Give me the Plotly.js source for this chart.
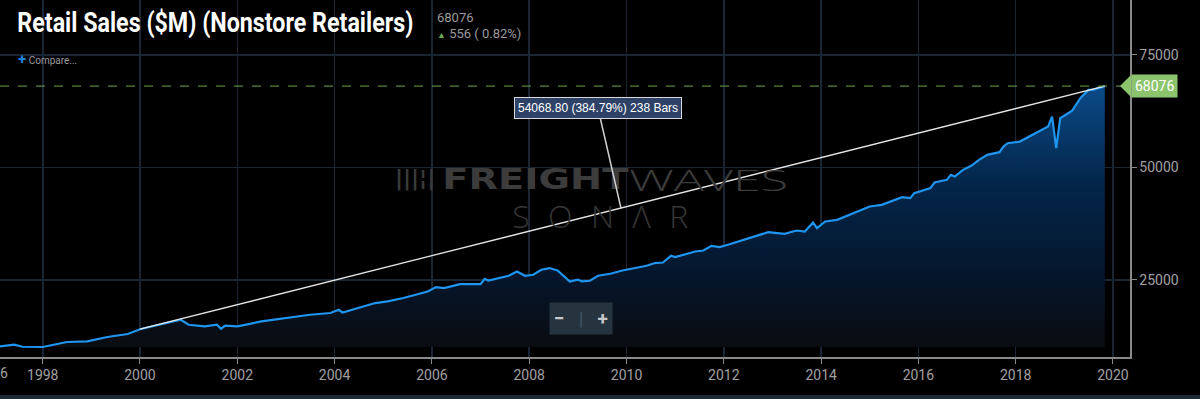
<!DOCTYPE html>
<html>
<head>
<meta charset="utf-8">
<script src="https://cdn.plot.ly/plotly-3.0.1.min.js"></script>
<style>
html,body{margin:0;padding:0;background:#000;}
#chart{width:1200px;height:399px;}
</style>
</head>
<body>
<div id="chart"></div>
<script>
// ---- data ----
const months = [
 '1997-01','1997-06','1997-08','1998-01','1998-07','1998-12','1999-05','1999-10',
 '2000-01','2000-08','2000-11','2001-01','2001-05','2001-08','2001-09','2001-10',
 '2002-01','2002-07','2002-10','2003-02','2003-07','2003-12','2004-02','2004-03',
 '2004-08','2004-11','2005-02','2005-06','2005-12','2006-02','2006-04','2006-08',
 '2007-01','2007-02','2007-03','2007-06','2007-08','2007-10','2007-12','2008-02',
 '2008-04','2008-06','2008-08','2008-11','2009-01','2009-02','2009-04','2009-06',
 '2009-09','2009-12','2010-03','2010-06','2010-08','2010-10','2010-12','2011-01',
 '2011-06','2011-08','2011-10','2011-12','2012-02','2012-05','2012-09','2012-12',
 '2013-04','2013-07','2013-09','2013-11','2013-12','2014-02','2014-05','2014-08',
 '2014-11','2015-01','2015-04','2015-07','2015-09','2015-11','2015-12','2016-04',
 '2016-05','2016-08','2016-09','2016-10','2016-12','2017-02','2017-04','2017-06',
 '2017-09','2017-10','2017-11','2018-02','2018-04','2018-06','2018-08','2018-09',
 '2018-10','2018-11','2018-12','2019-03','2019-05','2019-07','2019-08','2019-11'
];
const sales = [
 10050,10560,10100,10044,11156,11289,12267,12933,
 14007,15378,16111,15000,14622,15000,14111,14778,
 14622,15733,16111,16711,17222,17600,18333,17733,
 19067,19822,20178,20933,22400,23378,23156,24044,
 24044,25222,24844,25378,25889,26844,25889,26111,
 27222,27600,27067,24622,25000,24622,24778,25889,
 26333,27067,27500,28111,28711,28844,30333,30044,
 31289,31511,32556,32267,32778,33667,34778,35600,
 35222,35956,35733,37733,36489,37956,38333,39444,
 40556,41289,41667,42622,43378,43156,44267,45378,
 46622,47222,48333,47956,49444,50333,51667,52778,
 53378,54622,55378,55733,56711,57600,58711,59067,
 61289,54267,60933,62622,65378,67222,67222,68076
];
const trendDates = ['2000-01','2019-11'];
const trendValues = [14007.2, 68076];
const lastValue = 68076;
const changeText = '556 ( 0.82%)';
const measureText = '54068.80 (384.79%) 238 Bars';
const yTicks = [25000, 50000, 75000];
const edgeTickText = '6';   // visible remainder of the clipped 1996 label

// ---- layout helpers ----
const W = 1200, H = 399, ML = 0, MR = 70, MT = 0, MB = 42;
const PW = W - ML - MR, PH = H - MT - MB;
const yMin = 7822, yMax = 87222;
const px = x => (x - ML) / PW;
const py = y => 1 - (y - MT) / PH;
const vy = v => (v - yMin) / (yMax - yMin);
const fillBase = Math.min(...sales);
const maxVal = Math.max(...sales);

const traces = [
  {x: months, y: months.map(() => fillBase), type: 'scatter', mode: 'lines',
   line: {width: 0, color: 'rgba(0,0,0,0)'}, hoverinfo: 'skip', showlegend: false},
  {x: months, y: sales, type: 'scatter', mode: 'lines', fill: 'tonexty',
   line: {color: '#1f95f0', width: 2.2},
   fillgradient: {type: 'vertical', start: fillBase, stop: maxVal,
     colorscale: [[0, '#0a0c10'], [0.25, '#05152a'], [0.63, '#03264a'], [1, '#0a4a88']]},
   showlegend: false},
  {x: trendDates, y: trendValues, type: 'scatter', mode: 'lines',
   line: {color: '#e6e6e6', width: 1.3}, showlegend: false}
];

// tip of the callout on the trend line
const t0 = new Date(trendDates[0] + '-01').getTime();
const t1 = new Date(trendDates[1] + '-01').getTime();
const tipDate = '2009-11-20';
const tt = new Date(tipDate).getTime();
const tipVal = trendValues[0] + (trendValues[1] - trendValues[0]) * (tt - t0) / (t1 - t0);

const gy = vy(lastValue);
// texts fitted after drawing: annotation index -> [width, lengthAdjust, vertical stretch]
const fitWidths = {0: [396, 'spacingAndGlyphs', 1.27], 6: [186, 'spacingAndGlyphs', 1],
                   7: [159, 'spacingAndGlyphs', 1], 8: [176, 'spacing', 1]};

const layout = {
  width: W, height: H,
  margin: {l: ML, r: MR, t: MT, b: MB},
  paper_bgcolor: '#000', plot_bgcolor: '#000',
  font: {family: 'Roboto, sans-serif', color: '#a0a0a0'},
  xaxis: {type: 'date', range: ['1997-02-14', '2020-05-08'], tick0: '1998-01-01', dtick: 'M24',
    tickformat: '%Y', showline: true, linecolor: '#8a8a8a', linewidth: 1.5, ticks: 'outside',
    ticklen: 5, tickcolor: '#8a8a8a', gridcolor: '#1a2634', gridwidth: 1.5, zeroline: false,
    tickfont: {size: 14, color: '#a0a0a0'}, fixedrange: true},
  yaxis: {range: [yMin, yMax], tickvals: yTicks, tickformat: 'd', side: 'right', showline: true,
    linecolor: '#8a8a8a', linewidth: 1.5, ticks: 'outside', ticklen: 5, tickcolor: '#8a8a8a',
    gridcolor: '#1a2634', gridwidth: 1.5, zeroline: false,
    tickfont: {size: 14, color: '#a0a0a0'}, fixedrange: true},
  shapes: [
    {type: 'line', xref: 'paper', yref: 'y', x0: 0, x1: 1, y0: lastValue, y1: lastValue,
     line: {color: '#6aa84f', width: 1, dash: 'dash'}},
    {type: 'path', xref: 'paper', yref: 'paper',
     path: `M ${px(1120)} ${gy} L ${px(1131)} ${gy + 11/PH} L ${px(1131)} ${gy - 11/PH} Z`,
     fillcolor: '#8bc46c', line: {width: 0}},
    {type: 'rect', xref: 'paper', yref: 'paper', x0: 0, x1: W / PW, y0: py(395), y1: py(400),
     fillcolor: '#1e2b36', line: {width: 0}}
  ],
  annotations: [
    {xref: 'paper', yref: 'paper', x: px(215), y: py(23), xanchor: 'center', yanchor: 'middle',
     text: '<b>Retail Sales ($M) (Nonstore Retailers)</b>', showarrow: false,
     font: {family: 'Roboto', size: 22, color: '#ffffff'}},
    {xref: 'paper', yref: 'paper', x: px(435), y: py(17), xanchor: 'left', yanchor: 'middle',
     text: String(lastValue), showarrow: false, font: {size: 13, color: '#9a9a9a'}},
    {xref: 'paper', yref: 'paper', x: px(435), y: py(33), xanchor: 'left', yanchor: 'middle',
     text: '<span style="color:#6aa84f;font-size:9px">▲</span> ' + changeText, showarrow: false,
     font: {size: 13, color: '#9a9a9a'}},
    {xref: 'paper', yref: 'paper', x: px(16), y: py(59), xanchor: 'left', yanchor: 'middle',
     text: '<span style="color:#1e88e5;font-size:15px"><b>+</b></span> Compare...', showarrow: false,
     font: {size: 10, color: '#9a9a9a'}},
    {xref: 'paper', yref: 'paper', x: px(-1), y: py(373), xanchor: 'left', yanchor: 'middle',
     text: edgeTickText, showarrow: false, borderpad: 0, font: {size: 14, color: '#a0a0a0'}},
    // watermark
    {xref: 'paper', yref: 'paper', x: px(437), y: py(178), xanchor: 'right', yanchor: 'middle',
     text: '<b>|||¦|</b>', showarrow: false, font: {family: 'DejaVu Sans', size: 22, color: '#3a3a3a'}},
    {xref: 'paper', yref: 'paper', x: px(535), y: py(179), xanchor: 'center', yanchor: 'middle',
     text: '<b>FREIGHT</b>', showarrow: false, font: {family: 'DejaVu Sans', size: 29, color: '#3c3c3c'}},
    {xref: 'paper', yref: 'paper', x: px(708), y: py(179), xanchor: 'center', yanchor: 'middle',
     text: 'WAVES', showarrow: false, font: {family: 'Open Sans', weight: 300, size: 30, color: '#3c3c3c'}},
    {xref: 'paper', yref: 'paper', x: px(600), y: py(216), xanchor: 'center', yanchor: 'middle',
     text: 'SONΛR', showarrow: false, font: {family: 'Open Sans', weight: 300, size: 32, color: '#363636'}},
    // measure callout
    {x: tipDate, y: tipVal, xref: 'x', yref: 'y', text: measureText, showarrow: true,
     arrowhead: 0, arrowwidth: 1.5, arrowcolor: '#d0d0d0', ax: -23, ay: -100,
     bgcolor: '#2d4266', bordercolor: '#d8d8d8', borderwidth: 1, borderpad: 3,
     font: {family: 'Liberation Sans, Arial', size: 12, color: '#ffffff'}},
    // last value tag
    {xref: 'paper', yref: 'y', x: px(1154), y: lastValue, xanchor: 'center', yanchor: 'middle',
     text: String(lastValue), showarrow: false, bgcolor: '#8bc46c', borderpad: 3,
     font: {size: 14, color: '#ffffff'}},
    // zoom buttons
    {xref: 'paper', yref: 'paper', x: px(581), y: py(318), xanchor: 'center', yanchor: 'middle',
     text: '<b>−</b>   <span style="color:#3d5368">|</span>   <b>+</b>', showarrow: false,
     bgcolor: '#26343f', borderpad: 4, font: {size: 19, color: '#c8c8c8'}}
  ]
};

Plotly.newPlot('chart', traces, layout, {displayModeBar: false, staticPlot: true}).then(gd => {
  const groups = gd.querySelectorAll('.annotation');
  Object.keys(fitWidths).forEach(k => {
    const g = groups[+k];
    if (!g) return;
    const el = g.querySelector('.annotation-text');
    const [newW, adjust, sy] = fitWidths[k];
    el.setAttribute('textLength', newW);
    el.setAttribute('lengthAdjust', adjust);
    if (sy !== 1) {
      el.style.transformBox = 'fill-box';
      el.style.transformOrigin = 'center';
      el.style.transform = `scaleY(${sy})`;
    }
    g.querySelectorAll('rect').forEach(r => {
      const w = parseFloat(r.getAttribute('width'));
      const x = parseFloat(r.getAttribute('x') || 0);
      if (!isNaN(w)) {
        r.setAttribute('x', x + (w - newW) / 2);
        r.setAttribute('width', newW);
      }
    });
  });
});
</script>
</body>
</html>
